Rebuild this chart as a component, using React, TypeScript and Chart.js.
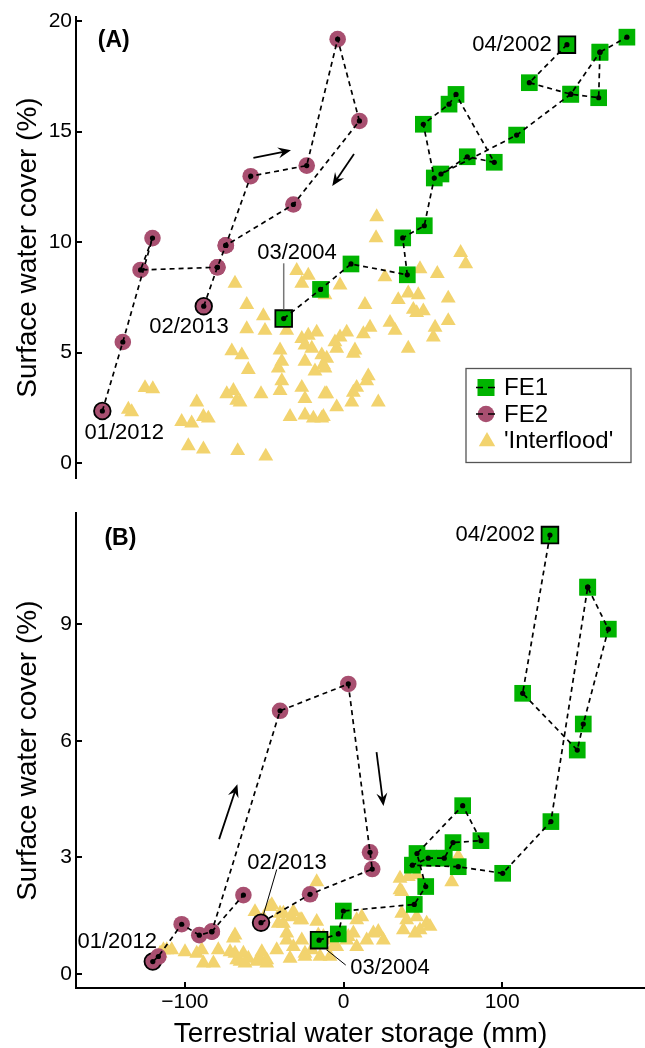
import React, { useEffect, useRef } from 'react';
import { Chart, registerables } from 'chart.js';
Chart.register(...registerables);

const FONT = '"Liberation Sans", Arial, Helvetica, sans-serif';
const GREEN = '#00B400';
const MAROON = '#A84F70';
const GOLD = '#F2D36E';

// ---------- axes ----------
const X_MIN = -168.6;
const X_MAX = 190;
const X_TICKS = [-100, 0, 100];
const A_Y_TICKS = [0, 5, 10, 15, 20];
const B_Y_TICKS = [0, 3, 6, 9];
const X_TITLE = 'Terrestrial water storage (mm)';
const Y_TITLE = 'Surface water cover (%)';

// ---------- panel A data ----------
const A_IF_X = [
  -125.1, -120.2, -135.6, -133.5, -102.0, -95.7, -92.5, -88.3, -85.2, -97.8,
  -88.3, -66.7, -49.0, -68.4, -61.0, -50.5, -61.0, -49.5, -70.4, -64.1,
  -60.0, -73.6, -69.4, -67.3, -65.2, -52.0, -40.0, -38.9, -41.1, -38.9,
  -40.0, -33.7, -35.8, -29.5, -22.2, -26.3, -26.3, -22.2, -16.9, -24.3,
  -20.0, -24.3, -26.3, -24.3, -18.0, -13.7, -12.7, -24.3, -19.0, -13.7,
  -11.7, -11.7, -2.2, 13.5, 20.9, 20.5, 73.8, 77.0, 26.1, 48.2,
  59.1, 40.8, 47.1, 34.5, 44.0, 50.3, 46.1, 66.0, 29.3, 32.5,
  57.7, 56.6, 66.0, 40.8, 16.7, 12.5, 2.0, -2.2, -5.4, -4.3,
  7.2, 6.2, -10.6, 15.6, 14.6, 8.3, 6.2, 21.9, 5.2, -4.3,
  -10.6, -11.7, -12.7,
];
const A_IF_Y = [
  3.41, 3.36, 2.43, 2.32, 1.88, 1.81, 2.76, 2.10, 2.03, 0.78,
  0.63, 0.56, 0.31, 8.13, 7.17, 6.66, 6.07, 6.00, 5.07, 4.89,
  4.23, 3.13, 3.28, 2.84, 2.76, 3.13, 5.11, 4.60, 4.30, 3.72,
  3.28, 2.10, 6.00, 8.71, 8.49, 8.13, 5.63, 5.78, 5.92, 5.34,
  5.19, 4.60, 3.42, 2.91, 4.16, 4.89, 4.45, 2.17, 2.03, 2.03,
  3.13, 7.61, 8.05, 7.17, 11.14, 10.19, 9.52, 9.01, 8.42, 8.79,
  8.57, 7.69, 7.61, 7.39, 6.95, 6.88, 6.80, 7.46, 6.36, 6.00,
  6.14, 5.70, 6.44, 5.19, 6.14, 5.85, 5.92, 5.70, 5.48, 5.19,
  5.11, 4.96, 4.74, 3.94, 3.72, 3.42, 3.20, 2.76, 2.76, 2.54,
  3.13, 4.30, 2.10,
];
const A_FE1_2002_X = [140.8, 117.1, 143.2, 160.8, 161.6, 178.6];
const A_FE1_2002_Y = [18.93, 17.21, 16.69, 16.53, 18.59, 19.27];
const A_FE1_2004_X = [-37.7, -14.5, 4.7, 40.2, 37.3, 50.9, 57.2, 50.3, 66.5, 70.9, 95.0, 78.0, 61.4, 109.1, 143.2, 161.6];
const A_FE1_2004_Y = [6.54, 7.86, 9.01, 8.52, 10.19, 10.74, 12.90, 15.33, 16.24, 16.68, 13.61, 13.86, 13.08, 14.84, 16.69, 18.59];
const A_FE2_2012_X = [-152.0, -139.1, -120.4, -127.9, -79.5];
const A_FE2_2012_Y = [2.36, 5.48, 10.18, 8.74, 8.86];
const A_FE2_2013_X = [-88.1, -79.5, -74.2, -58.5, -23.2, -3.7, 10.0, -31.6, -74.2];
const A_FE2_2013_Y = [7.10, 8.86, 9.85, 12.98, 13.46, 19.18, 15.48, 11.70, 9.85];

// ---------- panel B data ----------
const B_IF_X = [
  -113.5, -108.3, -99.9, -92.5, -89.4, -82.0, -88.3, -78.9, -69.4, -68.4,
  -65.2, -60.0, -52.6, -48.4, -50.5, -46.3, -41.1, -37.9, -35.8, -32.6,
  -31.6, -26.3, -24.3, -16.9, -15.9, -14.8, -68.4, -71.5, -67.3, -63.1,
  -62.1, -55.8, -54.7, -51.5, -48.4, -45.2, -42.1, -40.0, -37.9, -35.8,
  -33.7, -31.6, -27.4, -26.3, -24.3, -20.0, -16.9, -12.7, -8.5, -4.3,
  2.0, 8.3, 3.0, 6.2, 8.3, 11.5, 14.6, 18.8, 21.9, 25.1,
  35.6, 36.7, 39.8, 46.1, 52.4, 37.7, 45.1, 48.2, 54.5, 40.8,
  46.1, 68.2, 72.3, 35.6, 36.7, -8.5, -6.4, -115.6, -111.4,
];
const B_IF_Y = [
  0.62, 0.62, 0.57, 0.53, 0.62, 0.28, 0.28, 0.62, 0.92, 0.53,
  0.32, 0.40, 0.40, 0.36, 1.43, 1.73, 1.30, 1.56, 1.05, 1.47,
  0.70, 1.39, 0.53, 2.37, 1.00, 0.45, 1.00, 0.57, 0.36, 0.53,
  0.28, 1.60, 0.32, 0.57, 0.28, 1.78, 0.62, 1.56, 1.30, 0.87,
  0.40, 1.60, 1.39, 0.87, 0.45, 0.62, 1.35, 0.96, 0.45, 0.70,
  0.87, 0.70, 0.96, 1.05, 1.39, 1.47, 0.87, 1.05, 1.09, 0.87,
  2.16, 1.56, 1.39, 1.47, 1.30, 1.13, 1.05, 1.13, 1.22, 2.50,
  2.55, 2.37, 3.02, 2.46, 2.12, 0.87, 0.70, 0.53, 0.62,
];
const B_FE1_2002_X = [130.1, 112.9, 147.3, 151.1, 166.9, 153.9];
const B_FE1_2002_Y = [11.29, 7.22, 5.76, 6.43, 8.87, 9.95];
const B_FE1_2004_X = [-15.4, -3.3, -0.1, 44.6, 51.8, 46.3, 75.1, 86.6, 69.0, 63.5, 53.4, 43.4, 72.3, 100.3, 130.7, 153.9];
const B_FE1_2004_Y = [0.87, 1.03, 1.62, 1.79, 2.25, 3.10, 4.33, 3.43, 3.38, 2.98, 2.98, 2.80, 2.76, 2.59, 3.92, 9.95];
const B_FE2_2012_X = [-120.2, -116.7, -102.0, -90.9, -83.0, -63.1];
const B_FE2_2012_Y = [0.32, 0.45, 1.28, 1.00, 1.09, 2.03];
const B_FE2_2013_X = [-52.0, -21.1, 18.1, 16.7, 3.0, -40.0, -83.0];
const B_FE2_2013_Y = [1.32, 2.05, 2.70, 3.13, 7.46, 6.77, 1.09];

// ---------- annotations (data coordinates) ----------
const A_LABELS = [
  { text: '(A)', x: -154.9, y: 19.11, align: 'left', bold: true },
  { text: '04/2002', x: 131.2, y: 18.94, align: 'right' },
  { text: '03/2004', x: -29.3, y: 9.52, align: 'center' },
  { text: '02/2013', x: -97.4, y: 6.14, align: 'center' },
  { text: '01/2012', x: -138.2, y: 1.37, align: 'center' },
];
const A_LEADERS = [{ x1: -37.7, y1: 9.04, x2: -37.7, y2: 6.95, color: '#777', w: 1.5 }];
const A_ARROWS = [
  { x1: -56.8, y1: 13.81, x2: -33.1, y2: 14.15 },
  { x1: 6.6, y1: 13.98, x2: -7.1, y2: 12.54 },
];
const B_LABELS = [
  { text: '(B)', x: -150.7, y: 11.21, align: 'left', bold: true },
  { text: '04/2002', x: 120.7, y: 11.29, align: 'right' },
  { text: '02/2013', x: -35.6, y: 2.86, align: 'center' },
  { text: '01/2012', x: -142.6, y: 0.83, align: 'center' },
  { text: '03/2004', x: 29.3, y: 0.15, align: 'center' },
];
const B_LEADERS = [
  { x1: -42.1, y1: 2.69, x2: -50.5, y2: 1.52, color: '#000', w: 1 },
  { x1: -10.6, y1: 0.62, x2: 1.4, y2: 0.23, color: '#000', w: 1 },
];
const B_ARROWS = [
  { x1: -78.4, y1: 3.47, x2: -66.9, y2: 4.88 },
  { x1: 20.8, y1: 5.71, x2: 25.2, y2: 4.32 },
];

const LEGEND_ITEMS = ['FE1', 'FE2', "'Interflood'"];

type Panel = {
  name: string;
  height: number;
  padTop: number;
  padBottom: number;
  yMin: number;
  yMax: number;
  yTicks: number[];
  showX: boolean;
  ifX: number[];
  ifY: number[];
  fe1: [number[], number[]][];
  fe2: [number[], number[]][];
  labels: any[];
  leaders: any[];
  arrows: any[];
  legend: boolean;
};

const PANEL_A: Panel = {
  name: 'A', height: 495, padTop: 16, padBottom: 5, yMin: -0.69, yMax: 20.2, yTicks: A_Y_TICKS, showX: false,
  ifX: A_IF_X, ifY: A_IF_Y,
  fe1: [[A_FE1_2002_X, A_FE1_2002_Y], [A_FE1_2004_X, A_FE1_2004_Y]],
  fe2: [[A_FE2_2012_X, A_FE2_2012_Y], [A_FE2_2013_X, A_FE2_2013_Y]],
  labels: A_LABELS, leaders: A_LEADERS, arrows: A_ARROWS, legend: true,
};
const PANEL_B: Panel = {
  name: 'B', height: 553, padTop: 18.3, padBottom: 0, yMin: -0.36, yMax: 11.85, yTicks: B_Y_TICKS, showX: true,
  ifX: B_IF_X, ifY: B_IF_Y,
  fe1: [[B_FE1_2002_X, B_FE1_2002_Y], [B_FE1_2004_X, B_FE1_2004_Y]],
  fe2: [[B_FE2_2012_X, B_FE2_2012_Y], [B_FE2_2013_X, B_FE2_2013_Y]],
  labels: B_LABELS, leaders: B_LEADERS, arrows: B_ARROWS, legend: false,
};

function pts(xs: number[], ys: number[]) {
  return xs.map((x, i) => ({ x, y: ys[i] }));
}

function buildDatasets(p: Panel) {
  const ds: any[] = [];
  ds.push({
    label: "'Interflood'", data: pts(p.ifX, p.ifY), showLine: false,
    pointStyle: 'triangle', pointRadius: 8.6, pointBackgroundColor: GOLD, pointBorderWidth: 0,
    order: 10, clip: false,
  });
  const firstBorder = (c: any) => (c.dataIndex === 0 ? '#000' : 'rgba(0,0,0,0)');
  const firstWidth = (c: any) => (c.dataIndex === 0 ? 1.8 : 0);
  p.fe1.forEach(([xs, ys]) => {
    ds.push({
      label: 'FE1', data: pts(xs, ys), showLine: false, pointStyle: 'rect', pointRadius: 11.8,
      pointBackgroundColor: GREEN, pointBorderColor: firstBorder, pointBorderWidth: firstWidth,
      order: 6, clip: false,
    });
  });
  p.fe2.forEach(([xs, ys]) => {
    ds.push({
      label: 'FE2', data: pts(xs, ys), showLine: false, pointStyle: 'circle', pointRadius: 8.3,
      pointBackgroundColor: MAROON, pointBorderColor: firstBorder, pointBorderWidth: firstWidth,
      order: 5, clip: false,
    });
  });
  [...p.fe1, ...p.fe2].forEach(([xs, ys]) => {
    ds.push({
      label: 'line', data: pts(xs, ys), showLine: true, borderColor: '#000', borderWidth: 1.7,
      borderDash: [5, 4], pointRadius: 0, tension: 0, fill: false, order: 3, clip: false,
    });
    ds.push({
      label: 'dot', data: pts(xs, ys), showLine: false, pointStyle: 'circle', pointRadius: 2.6,
      pointBackgroundColor: '#000', pointBorderWidth: 0, order: 1, clip: false,
    });
  });
  return ds;
}

function drawArrow(ctx: CanvasRenderingContext2D, x1: number, y1: number, x2: number, y2: number) {
  const ang = Math.atan2(y2 - y1, x2 - x1);
  const L = 13, W = 5.5;
  const cx = Math.cos(ang), sy = Math.sin(ang);
  ctx.beginPath();
  ctx.moveTo(x1, y1);
  ctx.lineTo(x2 - cx * L * 0.6, y2 - sy * L * 0.6);
  ctx.stroke();
  ctx.beginPath();
  ctx.moveTo(x2, y2);
  ctx.lineTo(x2 - cx * L - sy * W, y2 - sy * L + cx * W);
  ctx.lineTo(x2 - cx * L * 0.65, y2 - sy * L * 0.65);
  ctx.lineTo(x2 - cx * L + sy * W, y2 - sy * L - cx * W);
  ctx.closePath();
  ctx.fill();
}

function makePlugin(p: Panel) {
  return {
    id: 'annot' + p.name,
    afterDraw(chart: any) {
      const ctx: CanvasRenderingContext2D = chart.ctx;
      const xs = chart.scales.x, ys = chart.scales.y;
      const ca = chart.chartArea;
      ctx.save();
      ctx.strokeStyle = '#000';
      ctx.fillStyle = '#000';
      ctx.lineWidth = 2;
      ctx.setLineDash([]);
      // inward tick marks
      p.yTicks.forEach((v) => {
        const py = Math.round(ys.getPixelForValue(v));
        ctx.beginPath(); ctx.moveTo(ca.left, py); ctx.lineTo(ca.left + 6, py); ctx.stroke();
      });
      if (p.showX) {
        X_TICKS.forEach((v) => {
          const px = Math.round(xs.getPixelForValue(v));
          ctx.beginPath(); ctx.moveTo(px, ca.bottom); ctx.lineTo(px, ca.bottom - 6); ctx.stroke();
        });
      }
      // leader lines
      p.leaders.forEach((l) => {
        ctx.strokeStyle = l.color; ctx.lineWidth = l.w;
        ctx.beginPath();
        ctx.moveTo(xs.getPixelForValue(l.x1), ys.getPixelForValue(l.y1));
        ctx.lineTo(xs.getPixelForValue(l.x2), ys.getPixelForValue(l.y2));
        ctx.stroke();
      });
      // arrows
      ctx.strokeStyle = '#000'; ctx.fillStyle = '#000'; ctx.lineWidth = 1.8;
      p.arrows.forEach((a) => {
        drawArrow(ctx, xs.getPixelForValue(a.x1), ys.getPixelForValue(a.y1), xs.getPixelForValue(a.x2), ys.getPixelForValue(a.y2));
      });
      // labels
      ctx.textBaseline = 'middle';
      p.labels.forEach((t) => {
        ctx.font = t.bold ? `bold 23px ${FONT}` : `22px ${FONT}`;
        ctx.textAlign = t.align;
        ctx.fillStyle = '#000';
        ctx.fillText(t.text, xs.getPixelForValue(t.x), ys.getPixelForValue(t.y));
      });
      // legend
      if (p.legend) {
        const bx = ca.right - 179, by = 368.5, bw = 165, bh = 94;
        ctx.fillStyle = '#fff';
        ctx.fillRect(bx, by, bw, bh);
        ctx.strokeStyle = '#555'; ctx.lineWidth = 1.3;
        ctx.strokeRect(bx, by, bw, bh);
        const sx = bx + 20, tx = bx + 38;
        const rows = [by + 19, by + 45.5, by + 72];
        // FE1
        ctx.fillStyle = GREEN;
        ctx.fillRect(sx - 8.5, rows[0] - 8.5, 17, 17);
        ctx.strokeStyle = '#000'; ctx.lineWidth = 1.6; ctx.setLineDash([7, 5]);
        ctx.beginPath(); ctx.moveTo(sx - 10, rows[0]); ctx.lineTo(sx + 12, rows[0]); ctx.stroke();
        // FE2
        ctx.setLineDash([]);
        ctx.fillStyle = MAROON;
        ctx.beginPath(); ctx.arc(sx, rows[1], 8.3, 0, Math.PI * 2); ctx.fill();
        ctx.setLineDash([7, 5]);
        ctx.beginPath(); ctx.moveTo(sx - 10, rows[1]); ctx.lineTo(sx + 12, rows[1]); ctx.stroke();
        ctx.setLineDash([]);
        // Interflood
        ctx.fillStyle = GOLD;
        const r = 9.5, ty = rows[2] + 1;
        ctx.beginPath();
        ctx.moveTo(sx + 1, ty - r);
        ctx.lineTo(sx + 1 + r * 0.866, ty + r * 0.5);
        ctx.lineTo(sx + 1 - r * 0.866, ty + r * 0.5);
        ctx.closePath(); ctx.fill();
        ctx.fillStyle = '#000';
        ctx.font = `24px ${FONT}`;
        ctx.textAlign = 'left';
        LEGEND_ITEMS.forEach((s, i) => ctx.fillText(s, tx, rows[i] + 1));
      }
      ctx.restore();
    },
  };
}

function makeConfig(p: Panel): any {
  const tickFont = { family: FONT, size: 21 };
  const xScale: any = {
    type: 'linear', position: 'bottom', display: p.showX, min: X_MIN, max: X_MAX,
    afterBuildTicks: (s: any) => { s.ticks = X_TICKS.map((v) => ({ value: v })); },
    grid: { display: false, drawTicks: false },
    border: { display: true, color: '#000', width: 2 },
    ticks: {
      padding: 2, color: '#000', font: tickFont, maxRotation: 0, autoSkip: false,
      callback: (v: any) => String(v).replace('-', '\u2212'),
    },
    title: { display: true, text: X_TITLE, color: '#000', font: { family: FONT, size: 28 }, padding: { top: 0, bottom: -3 } },
  };
  if (p.showX) xScale.afterFit = (s: any) => { s.height = 60; };
  return {
    type: 'scatter',
    data: { datasets: buildDatasets(p) },
    options: {
      responsive: false, animation: false, devicePixelRatio: 1, events: [],
      layout: { autoPadding: false, padding: { left: 0, right: 0, top: p.padTop, bottom: p.padBottom } },
      plugins: { legend: { display: false }, tooltip: { enabled: false } },
      scales: {
        x: xScale,
        y: {
          type: 'linear', position: 'left', min: p.yMin, max: p.yMax,
          afterBuildTicks: (s: any) => { s.ticks = p.yTicks.map((v) => ({ value: v })); },
          afterFit: (s: any) => { s.width = 76; },
          grid: { display: false, drawTicks: false },
          border: { display: true, color: '#000', width: 2 },
          ticks: { padding: 4, color: '#000', font: tickFont, autoSkip: false },
          title: { display: true, text: Y_TITLE, color: '#000', font: { family: FONT, size: 28 }, padding: { top: 11, bottom: 0 } },
        },
      },
    },
    plugins: [makePlugin(p)],
  };
}

export default function App() {
  const refA = useRef<HTMLCanvasElement>(null);
  const refB = useRef<HTMLCanvasElement>(null);
  useEffect(() => {
    const a = new Chart(refA.current as HTMLCanvasElement, makeConfig(PANEL_A));
    const b = new Chart(refB.current as HTMLCanvasElement, makeConfig(PANEL_B));
    return () => { a.destroy(); b.destroy(); };
  }, []);
  return (
    <div style={{ position: 'absolute', left: 0, top: 0, width: 645, height: 1048, background: '#fff' }}>
      <canvas ref={refA} width={645} height={PANEL_A.height}
        style={{ position: 'absolute', left: 0, top: 0, width: 645, height: PANEL_A.height }} />
      <canvas ref={refB} width={645} height={PANEL_B.height}
        style={{ position: 'absolute', left: 0, top: PANEL_A.height, width: 645, height: PANEL_B.height }} />
    </div>
  );
}
